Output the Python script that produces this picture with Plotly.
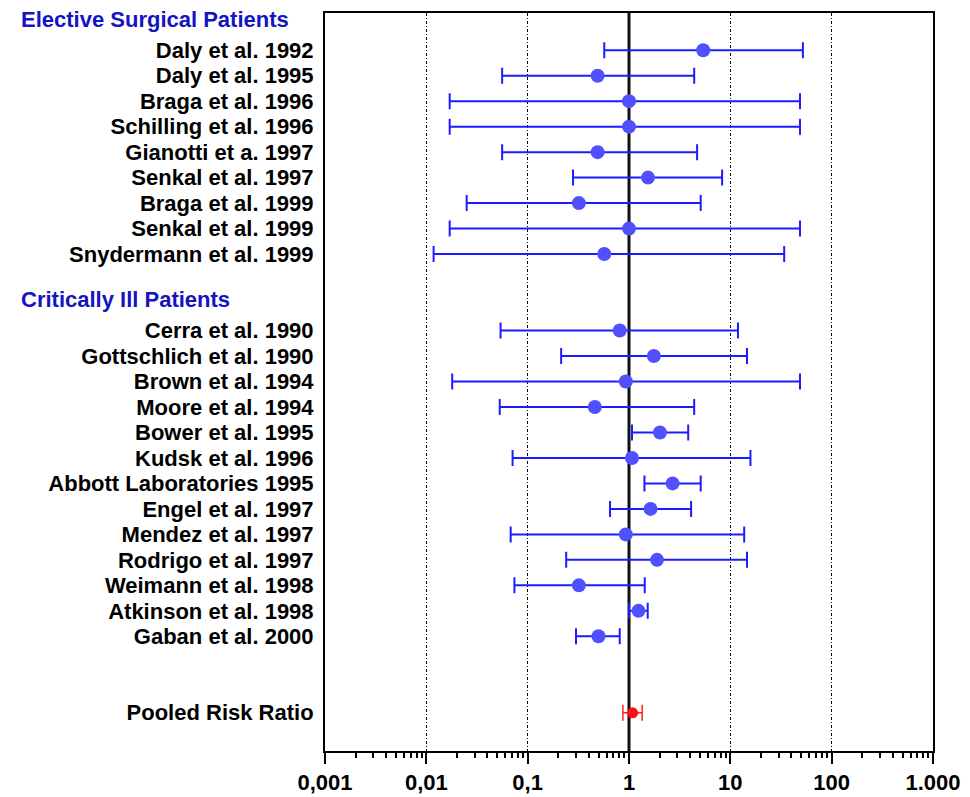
import plotly.graph_objects as go

# ---------------- data ----------------
elective_labels = ["Daly et al. 1992", "Daly et al. 1995", "Braga et al. 1996", "Schilling et al. 1996",
                   "Gianotti et a. 1997", "Senkal et al. 1997", "Braga et al. 1999", "Senkal et al. 1999",
                   "Snydermann et al. 1999"]
elective_rr = [5.4, 0.49, 1.0, 1.0, 0.49, 1.54, 0.32, 1.0, 0.57]
elective_lo = [0.57, 0.056, 0.017, 0.017, 0.056, 0.28, 0.025, 0.017, 0.0118]
elective_hi = [52.0, 4.4, 48.7, 48.7, 4.7, 8.3, 5.1, 48.7, 34.0]

critical_labels = ["Cerra et al. 1990", "Gottschlich et al. 1990", "Brown et al. 1994", "Moore et al. 1994",
                   "Bower et al. 1995", "Kudsk et al. 1996", "Abbott Laboratories 1995", "Engel et al. 1997",
                   "Mendez et al. 1997", "Rodrigo et al. 1997", "Weimann et al. 1998", "Atkinson et al. 1998",
                   "Gaban et al. 2000"]
critical_rr = [0.81, 1.76, 0.93, 0.46, 2.02, 1.07, 2.69, 1.63, 0.93, 1.89, 0.32, 1.24, 0.50]
critical_lo = [0.054, 0.214, 0.018, 0.053, 1.07, 0.071, 1.42, 0.65, 0.068, 0.24, 0.074, 1.0, 0.30]
critical_hi = [11.9, 14.6, 48.7, 4.4, 3.84, 15.8, 5.1, 4.1, 13.7, 14.6, 1.43, 1.53, 0.81]

pooled_label = "Pooled Risk Ratio"
pooled_rr = [1.085]
pooled_lo = [0.87]
pooled_hi = [1.35]

group_titles = ["Elective Surgical Patients", "Critically Ill Patients"]
x_tickvals = [0.001, 0.01, 0.1, 1, 10, 100, 1000]
x_ticktext = ["0,001", "0,01", "0,1", "1", "10", "100", "1.000"]
null_value = 1

# ---------------- row positions ----------------
elective_y = list(range(0, len(elective_labels)))
critical_y = list(range(11, 11 + len(critical_labels)))
pooled_y = [26]
header_y = [-1.22, 9.8]
y_range = [27.5, -1.46]

FONT = "Liberation Sans, Arial, sans-serif"

fig = go.Figure()

def add_series(xs, ys, lo, hi, mcolor, lcolor, msize, thick, capw):
    fig.add_trace(go.Scatter(
        x=xs, y=ys, mode="markers",
        marker=dict(color=mcolor, size=msize, line=dict(width=0)),
        error_x=dict(type="data", symmetric=False,
                     array=[h - v for h, v in zip(hi, xs)],
                     arrayminus=[v - l for v, l in zip(xs, lo)],
                     color=lcolor, thickness=thick, width=capw),
        showlegend=False, hoverinfo="skip"))

# reference line at RR = 1
fig.add_trace(go.Scatter(x=[null_value, null_value], y=y_range, mode="lines",
                         line=dict(color="#111111", width=3), showlegend=False, hoverinfo="skip"))

add_series(elective_rr, elective_y, elective_lo, elective_hi, "#5050ff", "#1c1cff", 14, 2, 8)
add_series(critical_rr, critical_y, critical_lo, critical_hi, "#5050ff", "#1c1cff", 14, 2, 8)
add_series(pooled_rr, pooled_y, pooled_lo, pooled_hi, "#ff1010", "#ff2020", 11, 1.5, 8)

minor_vals = [k * 10.0 ** e for e in range(-3, 3) for k in range(2, 10)]

fig.update_xaxes(
    type="log", range=[-3, 3], automargin=False,
    tickvals=x_tickvals, ticktext=x_ticktext,
    tickfont=dict(family=FONT, size=22, color="black", weight="bold"),
    ticks="outside", ticklen=11, tickwidth=2, tickcolor="black",
    showline=True, linecolor="black", linewidth=2, mirror=True,
    showgrid=True, gridcolor="black", gridwidth=1, griddash="3px,2px,1px,2px",
    minor=dict(tickvals=minor_vals, ticks="outside", ticklen=5, tickwidth=2,
               tickcolor="black", showgrid=False),
    zeroline=False,
)

fig.update_yaxes(
    range=y_range, automargin=False,
    tickvals=elective_y + critical_y + pooled_y,
    ticktext=elective_labels + critical_labels + [pooled_label],
    tickfont=dict(family=FONT, size=22, color="black", weight="bold"),
    ticks="", ticklabelstandoff=5,
    showline=True, linecolor="black", linewidth=2, mirror=True,
    showgrid=False, zeroline=False,
)

for title, hy in zip(group_titles, header_y):
    fig.add_annotation(text=title, xref="paper", yref="y", x=-0.503, y=hy,
                       xanchor="left", yanchor="middle", showarrow=False,
                       font=dict(family=FONT, size=22, color="#1414c0", weight="bold"))

fig.update_layout(
    width=970, height=797,
    margin=dict(l=325, r=37, t=13, b=46),
    paper_bgcolor="white", plot_bgcolor="white",
)

fig.write_html("out.html")
